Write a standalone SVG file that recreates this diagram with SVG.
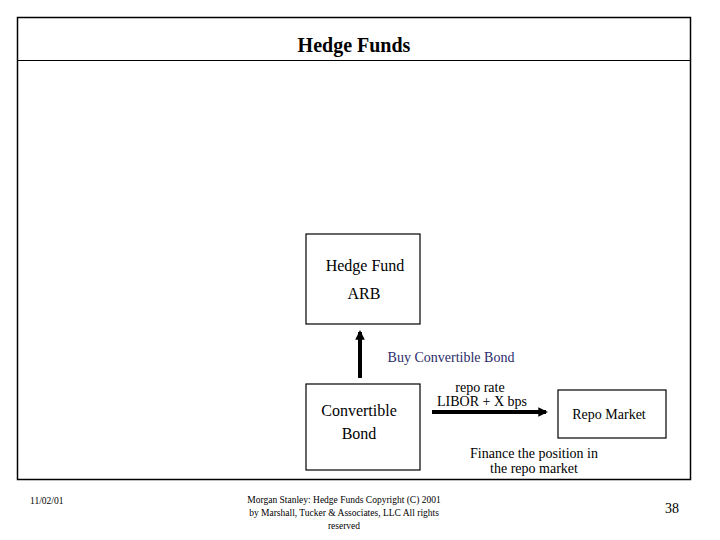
<svg xmlns="http://www.w3.org/2000/svg" width="720" height="540" viewBox="0 0 720 540">
<style>
text{font-family:"Liberation Serif","Times New Roman",serif;fill:#000}
.box{fill:#fff;stroke:#000;stroke-width:1.2}
.lbl{font-size:16px;text-anchor:middle}
.sm{font-size:14px;text-anchor:middle}
.foot{font-size:9.5px;text-anchor:middle}
</style>
<defs>
<marker id="ah" viewBox="0 0 10 10" refX="8" refY="5" markerWidth="2.6" markerHeight="2.4" orient="auto" markerUnits="strokeWidth">
<path d="M0,0 L10,5 L0,10 z" fill="#000"/>
</marker>
</defs>
<rect width="720" height="540" fill="#fff"/>
<g id="frame">
<rect x="17.5" y="17.5" width="673" height="462" fill="none" stroke="#000" stroke-width="1.5"/>
<line x1="17.5" y1="60.5" x2="690.5" y2="60.5" stroke="#000" stroke-width="1"/>
<text x="354" y="52" font-size="20" font-weight="bold" text-anchor="middle">Hedge Funds</text>
</g>
<g id="hedge-fund">
<rect class="box" x="306" y="234" width="114" height="90"/>
<text class="lbl" x="365" y="271">Hedge Fund</text>
<text class="lbl" x="364" y="299">ARB</text>
</g>
<g id="convertible-bond">
<rect class="box" x="306" y="384" width="114" height="86"/>
<text class="lbl" x="359" y="416">Convertible</text>
<text class="lbl" x="359" y="439">Bond</text>
</g>
<g id="repo-market">
<rect class="box" x="558" y="390" width="108" height="48"/>
<text class="sm" x="609" y="419">Repo Market</text>
</g>
<g id="connectors">
<line x1="360" y1="378" x2="360" y2="332" stroke="#000" stroke-width="4" marker-end="url(#ah)"/>
<line x1="432" y1="412" x2="546" y2="412" stroke="#000" stroke-width="4" marker-end="url(#ah)"/>
</g>
<g id="labels">
<text class="sm" x="451" y="362" style="fill:#2b2b6b">Buy Convertible Bond</text>
<text class="sm" x="480" y="392">repo rate</text>
<text class="sm" x="482" y="406">LIBOR + X bps</text>
<text class="sm" x="534" y="458">Finance the position in</text>
<text class="sm" x="534" y="473">the repo market</text>
</g>
<g id="footer">
<text x="30" y="504" font-size="9.5">11/02/01</text>
<text class="foot" x="344" y="503">Morgan Stanley:  Hedge Funds    Copyright (C) 2001</text>
<text class="foot" x="344" y="516">by Marshall, Tucker &amp; Associates, LLC  All rights</text>
<text class="foot" x="344" y="529">reserved</text>
<text x="665" y="513" font-size="14">38</text>
</g>
</svg>
